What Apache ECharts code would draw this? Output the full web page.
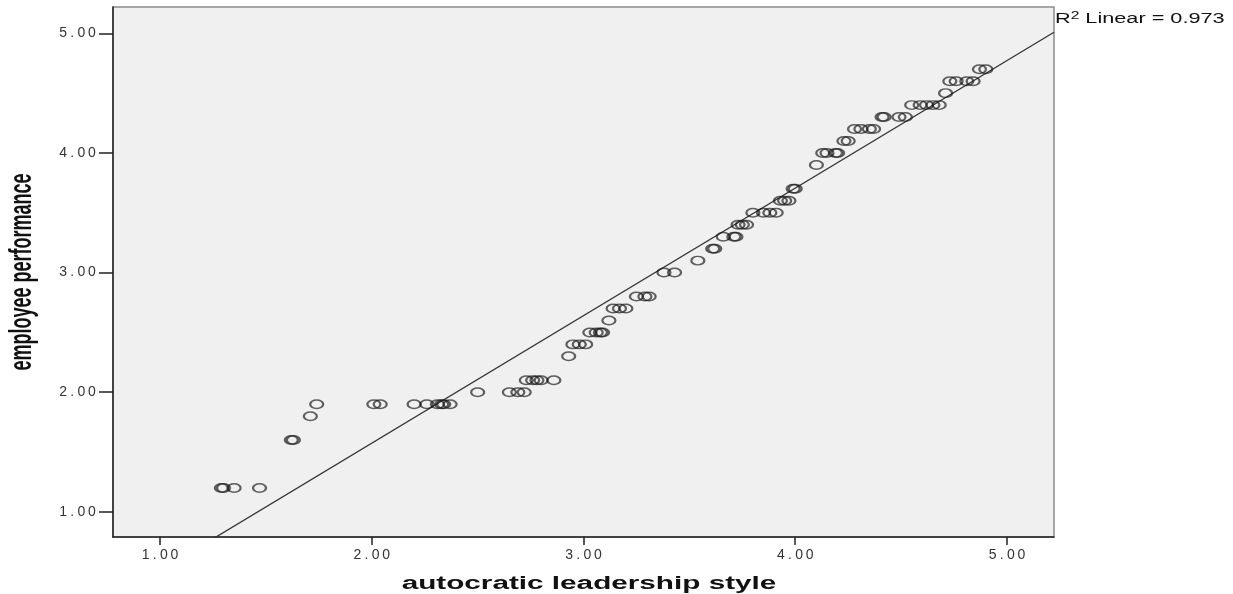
<!DOCTYPE html>
<html>
<head>
<meta charset="utf-8">
<script src="https://cdn.jsdelivr.net/npm/echarts@6/dist/echarts.min.js"></script>
<style>
html,body{margin:0;padding:0;background:#fff;}
#chart{width:1233px;height:594px;}
</style>
</head>
<body>
<div id="chart"></div>
<script>
// ---- data ----
const leadership = [
  1.29, 1.30, 1.35, 1.47,
  1.62, 1.63,
  1.71,
  1.74,
  2.01, 2.04, 2.20, 2.26, 2.31, 2.33, 2.34, 2.37,
  2.50, 2.65, 2.69, 2.72,
  2.73, 2.76, 2.78, 2.80, 2.86,
  2.93,
  2.95, 2.98, 3.01,
  3.03, 3.06, 3.08, 3.09,
  3.12,
  3.14, 3.17, 3.20,
  3.25, 3.29, 3.31,
  3.38, 3.43,
  3.54,
  3.61, 3.62,
  3.66, 3.71, 3.72,
  3.73, 3.75, 3.77,
  3.80, 3.85, 3.88, 3.91,
  3.93, 3.95, 3.97,
  3.99, 4.00,
  4.10,
  4.13, 4.15, 4.19, 4.20,
  4.23, 4.25,
  4.28, 4.31, 4.35, 4.37,
  4.41, 4.42, 4.49, 4.52,
  4.55, 4.59, 4.62, 4.65, 4.68,
  4.71,
  4.73, 4.76, 4.81, 4.84,
  4.87, 4.90
];
const performance = [
  1.2, 1.2, 1.2, 1.2,
  1.6, 1.6,
  1.8,
  1.9,
  1.9, 1.9, 1.9, 1.9, 1.9, 1.9, 1.9, 1.9,
  2.0, 2.0, 2.0, 2.0,
  2.1, 2.1, 2.1, 2.1, 2.1,
  2.3,
  2.4, 2.4, 2.4,
  2.5, 2.5, 2.5, 2.5,
  2.6,
  2.7, 2.7, 2.7,
  2.8, 2.8, 2.8,
  3.0, 3.0,
  3.1,
  3.2, 3.2,
  3.3, 3.3, 3.3,
  3.4, 3.4, 3.4,
  3.5, 3.5, 3.5, 3.5,
  3.6, 3.6, 3.6,
  3.7, 3.7,
  3.9,
  4.0, 4.0, 4.0, 4.0,
  4.1, 4.1,
  4.2, 4.2, 4.2, 4.2,
  4.3, 4.3, 4.3, 4.3,
  4.4, 4.4, 4.4, 4.4, 4.4,
  4.5,
  4.6, 4.6, 4.6, 4.6,
  4.7, 4.7
];
const tickValues = [1, 2, 3, 4, 5];
const fitSlope = 1.066;
const fitIntercept = -0.558;
const rSquared = 0.973;
const xTitle = 'autocratic leadership style';
const yTitle = 'employee performance';

// ---- build ----
const xMin = 0.778, xMax = 5.222, yMin = 0.79, yMax = 5.22;
const points = leadership.map((x, i) => [x, performance[i]]);
const fitLine = [xMin, xMax].map(x => [x, fitIntercept + fitSlope * x]);

const chart = echarts.init(document.getElementById('chart'), null, {renderer: 'canvas'});
const axisColor = '#222';
// wide-spaced tick label text (the reference looks horizontally stretched)
const tickFormatter = v => v.toFixed(2).split('').map(c => c === '.' ? '{p|.}' : '{d|' + c + '}').join('');
const tickRich = {
  d: {fontFamily: 'Liberation Sans', fontSize: 14, color: '#333', padding: [0, 1.3]},
  p: {fontFamily: 'Liberation Sans', fontSize: 14, color: '#333', padding: [0, 2]}
};
chart.setOption({
  animation: false,
  backgroundColor: '#ffffff',
  grid: {
    left: 113, top: 7, right: 179, bottom: 57,
    show: true, backgroundColor: '#f0f0f0', borderColor: '#8a8a8a', borderWidth: 1.5
  },
  xAxis: {
    type: 'value', min: xMin, max: xMax,
    splitLine: {show: false},
    axisLine: {show: true, onZero: false, lineStyle: {color: axisColor, width: 1.5}},
    axisTick: {show: true, customValues: tickValues, length: 8, lineStyle: {color: axisColor, width: 1.5}},
    axisLabel: {customValues: tickValues, margin: 11, formatter: tickFormatter, rich: tickRich}
  },
  yAxis: {
    type: 'value', min: yMin, max: yMax,
    splitLine: {show: false},
    axisLine: {show: true, onZero: false, lineStyle: {color: axisColor, width: 1.5}},
    axisTick: {show: true, customValues: tickValues, length: 14, lineStyle: {color: axisColor, width: 1.5}},
    axisLabel: {customValues: tickValues, margin: 16, formatter: tickFormatter, rich: tickRich}
  },
  series: [
    {
      type: 'line', data: fitLine, symbol: 'none', clip: true, silent: true,
      lineStyle: {color: '#333', width: 1.3}, z: 2
    },
    {
      type: 'scatter', data: points, symbol: 'circle', symbolSize: [13, 8.5],
      itemStyle: {color: 'rgba(0,0,0,0)', borderColor: 'rgba(25,25,25,0.85)', borderWidth: 1.8},
      z: 3
    }
  ],
  graphic: [
    {
      type: 'text', x: 1055, y: 19, scaleX: 1.55,
      style: {
        text: '{a|R}{s|2}{a| Linear = ' + rSquared.toFixed(3) + '}',
        verticalAlign: 'middle', textAlign: 'left',
        rich: {
          a: {fontFamily: 'Liberation Sans', fontSize: 14, fill: '#111'},
          s: {fontFamily: 'Liberation Sans', fontSize: 10, fill: '#111', verticalAlign: 'top', padding: [0, 0, 6, 0]}
        }
      }
    },
    {
      type: 'text', x: 589, y: 584, scaleX: 1.65,
      style: {
        text: xTitle, textAlign: 'center', verticalAlign: 'middle',
        fontFamily: 'Liberation Sans', fontWeight: 'bold', fontSize: 18, fill: '#111'
      }
    },
    {
      type: 'text', x: 23, y: 272, rotation: Math.PI / 2, scaleY: 1.7,
      style: {
        text: yTitle, textAlign: 'center', verticalAlign: 'middle',
        fontFamily: 'Liberation Sans', fontWeight: 'bold', fontSize: 18, fill: '#111'
      }
    }
  ]
});
</script>
</body>
</html>
